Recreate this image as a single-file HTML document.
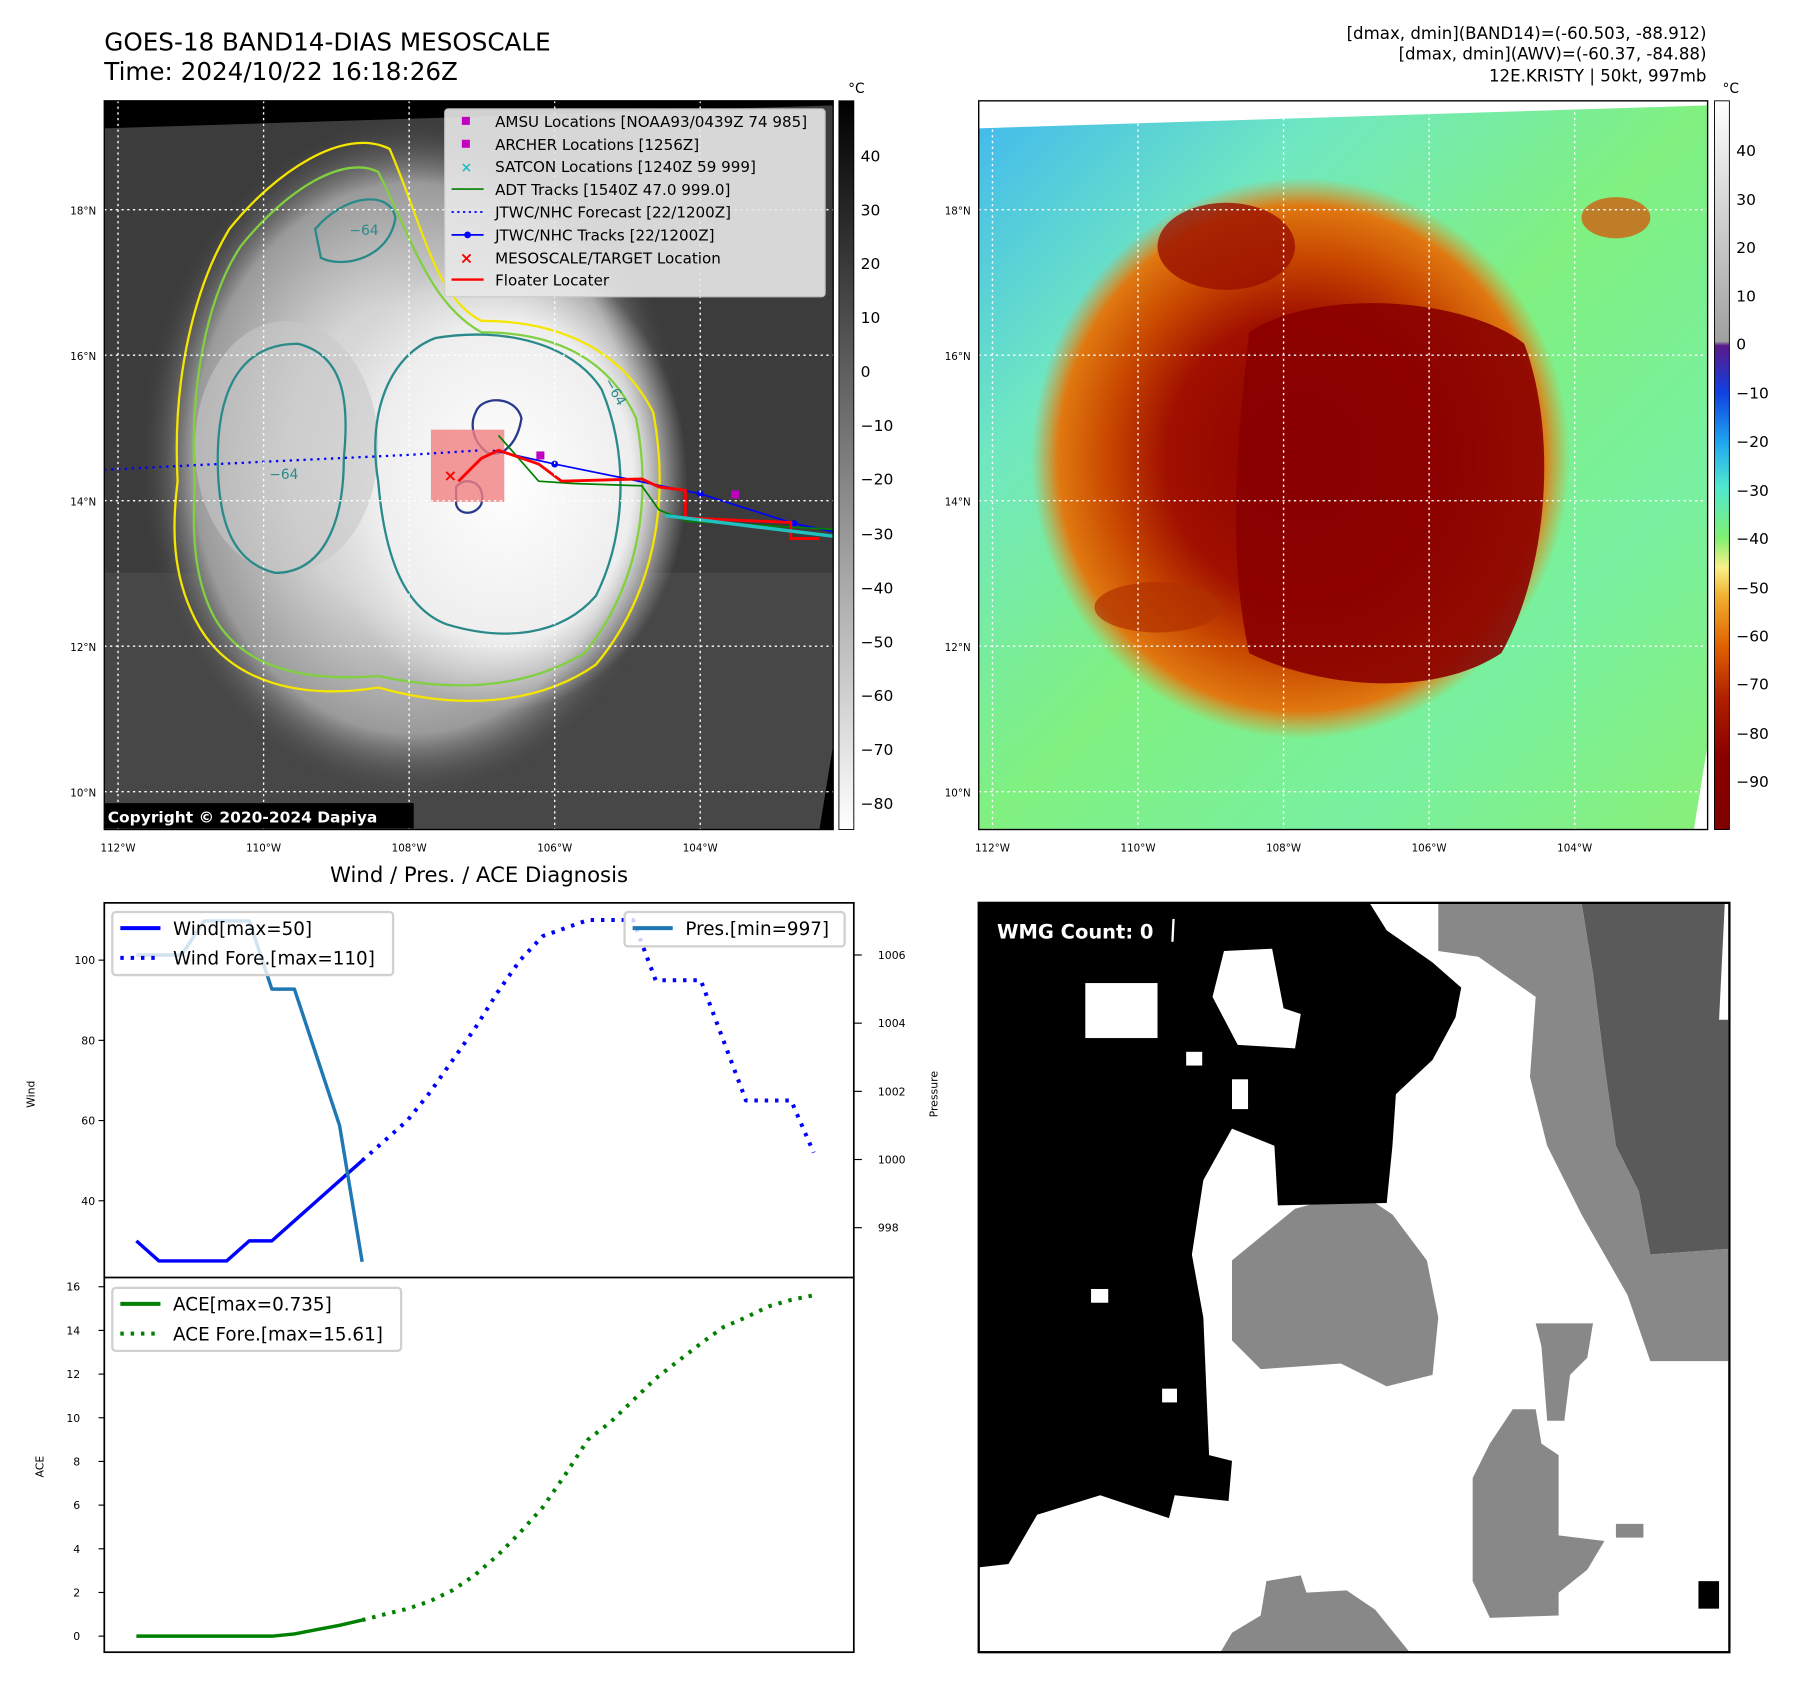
<!DOCTYPE html>
<html><head><meta charset="utf-8"><style>
html,body{margin:0;padding:0;background:#fff;}
svg{display:block;font-family:"DejaVu Sans","Liberation Sans",sans-serif;}
</style></head><body>
<svg id="fig" width="1797" height="1690" viewBox="0 0 1568 1475" preserveAspectRatio="none" xmlns="http://www.w3.org/2000/svg">
<defs>
<radialGradient id="cloudG" cx="0.5" cy="0.5" r="0.5">
<stop offset="0" stop-color="#f0f0f0"/><stop offset="0.45" stop-color="#d4d4d4"/><stop offset="0.8" stop-color="#9a9a9a"/><stop offset="1" stop-color="#3c3c3c" stop-opacity="0"/></radialGradient>
<radialGradient id="coreG" cx="0.5" cy="0.5" r="0.5">
<stop offset="0" stop-color="#ffffff"/><stop offset="0.7" stop-color="#eeeeee"/><stop offset="1" stop-color="#e0e0e0" stop-opacity="0"/></radialGradient>
<radialGradient id="hotG" cx="0.5" cy="0.5" r="0.5">
<stop offset="0" stop-color="#8a0000"/><stop offset="0.5" stop-color="#a01000"/><stop offset="0.72" stop-color="#c84800"/><stop offset="0.9" stop-color="#e07810"/><stop offset="1" stop-color="#e88a20" stop-opacity="0"/></radialGradient>
<linearGradient id="bgR" x1="0" y1="0" x2="1" y2="1">
<stop offset="0" stop-color="#40b8f0"/><stop offset="0.25" stop-color="#70e8c0"/><stop offset="0.5" stop-color="#80f080"/><stop offset="0.75" stop-color="#78f0a0"/><stop offset="1" stop-color="#88f078"/></linearGradient>
<linearGradient id="cb1" x1="0" y1="0" x2="0" y2="1"><stop offset="0" stop-color="#000"/><stop offset="1" stop-color="#fff"/></linearGradient>
<linearGradient id="cb2" x1="0" y1="0" x2="0" y2="1">
<stop offset="0" stop-color="#ffffff"/><stop offset="0.33" stop-color="#a0a0a0"/><stop offset="0.336" stop-color="#5a1a8a"/><stop offset="0.40" stop-color="#1040e0"/><stop offset="0.47" stop-color="#20a8f0"/><stop offset="0.53" stop-color="#50e8d0"/><stop offset="0.60" stop-color="#80f070"/><stop offset="0.64" stop-color="#f8f088"/><stop offset="0.68" stop-color="#f0b030"/><stop offset="0.75" stop-color="#e06000"/><stop offset="0.82" stop-color="#b02000"/><stop offset="0.9" stop-color="#8a0000"/><stop offset="1" stop-color="#800000"/></linearGradient>
<clipPath id="clipL"><rect x="91" y="88" width="636" height="636"/></clipPath>
<clipPath id="clipR"><rect x="854" y="88" width="636" height="636"/></clipPath>
</defs>

<text x="91" y="44" font-size="21.5">GOES-18 BAND14-DIAS MESOSCALE</text>
<text x="91" y="70" font-size="21.5">Time: 2024/10/22 16:18:26Z</text>
<g font-size="14.5" text-anchor="end">
<text x="1489" y="34">[dmax, dmin](BAND14)=(-60.503, -88.912)</text>
<text x="1489" y="52">[dmax, dmin](AWV)=(-60.37, -84.88)</text>
<text x="1489" y="71">12E.KRISTY | 50kt, 997mb</text>
</g>

<g clip-path="url(#clipL)">
<rect x="91" y="88" width="636" height="636" fill="#3c3c3c"/>
<rect x="91" y="500" width="636" height="224" fill="#474747"/>
<ellipse cx="360" cy="400" rx="240" ry="300" fill="url(#cloudG)"/>
<ellipse cx="440" cy="420" rx="160" ry="200" fill="url(#coreG)"/>
<ellipse cx="250" cy="390" rx="80" ry="110" fill="#c8c8c8" opacity="0.6"/>
<polygon points="91,88 727,88 727,92 91,112" fill="#000"/>
<polygon points="727,650 727,724 715,724" fill="#000"/>
<path d="M155,420 C150,330 170,250 200,200 C240,150 300,110 340,130 C370,200 380,260 420,280 C480,280 540,300 570,360 C585,440 570,520 520,580 C470,615 400,620 330,600 C270,610 200,600 170,540 C150,500 150,460 155,420Z" fill="none" stroke="#f5e600" stroke-width="2"/>
<path d="M170,420 C165,340 180,260 210,215 C250,165 300,135 330,150 C360,210 375,265 420,290 C480,290 530,310 555,365 C570,440 555,515 510,570 C460,600 400,605 330,590 C270,595 210,585 185,535 C168,500 168,460 170,420Z" fill="none" stroke="#80d040" stroke-width="2"/>
<path d="M330,420 C320,360 340,310 380,295 C440,285 500,300 525,340 C550,400 545,470 520,520 C490,555 440,560 390,545 C350,530 335,480 330,420Z" fill="none" stroke="#2a8a8a" stroke-width="2"/>
<path d="M190,400 C190,340 210,300 260,300 C300,310 305,350 300,400 C300,460 280,500 240,500 C200,490 190,450 190,400Z" fill="none" stroke="#2a8a8a" stroke-width="2"/>
<path d="M275,200 C300,170 340,165 345,190 C340,225 300,235 280,225Z" fill="none" stroke="#2a8a8a" stroke-width="2"/>
<path d="M415,360 C420,345 450,345 455,365 C452,385 440,400 425,395 C412,385 410,370 415,360Z" fill="none" stroke="#2a3a8a" stroke-width="2"/>
<path d="M398,425 C405,415 425,420 420,440 C415,450 400,450 398,440Z" fill="none" stroke="#2a3a8a" stroke-width="2"/>
<text x="305" y="205" font-size="12" fill="#2a8a8a">−64</text>
<text x="235" y="418" font-size="12" fill="#2a8a8a">−64</text>
<text x="527" y="333" font-size="12" fill="#2a8a8a" transform="rotate(60 527 333)">−64</text>
<rect x="376" y="375" width="64" height="63" fill="#f08080" opacity="0.8"/>
<polyline points="91,410 230,403 357,397 420,393" fill="none" stroke="#0000ff" stroke-width="2" stroke-dasharray="2,4"/>
<polyline points="430,393 484,405 611,431 693,457 727,464" fill="none" stroke="#0000ff" stroke-width="1.5"/>
<g fill="#0000ff"><circle cx="484" cy="405" r="3"/><circle cx="611" cy="431" r="3"/><circle cx="693" cy="457" r="3"/></g>
<polyline points="435,380 470,420 500,422 560,424 575,445 600,455 690,460 727,462" fill="none" stroke="#008000" stroke-width="1.5"/>
<polyline points="400,420 420,400 435,393 470,405 490,420 560,418 575,425 598,428 598,452 690,456 690,470 715,470" fill="none" stroke="#ff0000" stroke-width="2.5"/>
<polyline points="580,450 727,468" fill="none" stroke="#20c0c0" stroke-width="3"/>
<rect x="468" y="394" width="7" height="7" fill="#c000c0"/>
<rect x="638" y="428" width="7" height="7" fill="#c000c0"/>
<text x="393" y="420" font-size="14" fill="#ff0000" font-weight="bold" text-anchor="middle">×</text>
<g stroke="#fff" stroke-dasharray="2,3" stroke-width="1.2">
<line x1="103" y1="88" x2="103" y2="724"/><line x1="230" y1="88" x2="230" y2="724"/><line x1="357" y1="88" x2="357" y2="724"/><line x1="484" y1="88" x2="484" y2="724"/><line x1="611" y1="88" x2="611" y2="724"/>
<line x1="91" y1="183" x2="727" y2="183"/><line x1="91" y1="310" x2="727" y2="310"/><line x1="91" y1="437" x2="727" y2="437"/><line x1="91" y1="564" x2="727" y2="564"/><line x1="91" y1="691" x2="727" y2="691"/>
</g>
<rect x="89" y="701" width="272" height="22" fill="#000"/>
<text x="94" y="718" font-size="13.5" font-weight="bold" fill="#fff">Copyright © 2020-2024 Dapiya</text>
</g>
<rect x="91" y="88" width="636" height="636" fill="none" stroke="#000" stroke-width="1.2"/>
<g>
<rect x="388" y="95" width="332" height="164" rx="3" fill="#e8e8e8" opacity="0.9" stroke="#ccc"/>
<g font-size="13.2">
<rect x="403" y="102" width="7" height="7" fill="#c000c0"/><text x="432" y="111">AMSU Locations [NOAA93/0439Z 74 985]</text>
<rect x="403" y="122" width="7" height="7" fill="#c000c0"/><text x="432" y="131">ARCHER Locations [1256Z]</text>
<text x="407" y="150" fill="#20c0c0" font-weight="bold" text-anchor="middle" font-size="12">×</text><text x="432" y="150">SATCON Locations [1240Z 59 999]</text>
<line x1="394" y1="165" x2="422" y2="165" stroke="#008000" stroke-width="1.5"/><text x="432" y="170">ADT Tracks [1540Z 47.0 999.0]</text>
<line x1="394" y1="185" x2="422" y2="185" stroke="#0000ff" stroke-width="1.5" stroke-dasharray="2,3"/><text x="432" y="190">JTWC/NHC Forecast [22/1200Z]</text>
<line x1="394" y1="205" x2="422" y2="205" stroke="#0000ff" stroke-width="1.5"/><circle cx="408" cy="205" r="3" fill="#0000ff"/><text x="432" y="210">JTWC/NHC Tracks [22/1200Z]</text>
<text x="407" y="230" fill="#ff0000" font-weight="bold" text-anchor="middle" font-size="14">×</text><text x="432" y="230">MESOSCALE/TARGET Location</text>
<line x1="394" y1="244" x2="422" y2="244" stroke="#ff0000" stroke-width="2"/><text x="432" y="249">Floater Locater</text>
</g></g>
<g font-size="9" text-anchor="middle">
<text x="103" y="743">112°W</text><text x="230" y="743">110°W</text><text x="357" y="743">108°W</text><text x="484" y="743">106°W</text><text x="611" y="743">104°W</text></g>
<g font-size="9" text-anchor="end">
<text x="84" y="187">18°N</text><text x="84" y="314">16°N</text><text x="84" y="441">14°N</text><text x="84" y="568">12°N</text><text x="84" y="695">10°N</text></g>
<rect x="732" y="88" width="13" height="636" fill="url(#cb1)" stroke="#000" stroke-width="0.8"/>
<text x="740" y="81" font-size="12">°C</text>
<g font-size="13.5">
<text x="751" y="141">40</text><text x="751" y="188">30</text><text x="751" y="235">20</text><text x="751" y="282">10</text><text x="751" y="329">0</text><text x="751" y="376">−10</text><text x="751" y="423">−20</text><text x="751" y="471">−30</text><text x="751" y="518">−40</text><text x="751" y="565">−50</text><text x="751" y="612">−60</text><text x="751" y="659">−70</text><text x="751" y="706">−80</text></g>

<g clip-path="url(#clipR)">
<rect x="854" y="88" width="636" height="636" fill="url(#bgR)"/>
<ellipse cx="1135" cy="400" rx="235" ry="245" fill="url(#hotG)"/>
<path d="M1090,290 C1150,250 1280,260 1330,300 C1360,380 1350,500 1310,570 C1250,610 1150,600 1090,570 C1070,480 1080,380 1090,290Z" fill="#8a0000" opacity="0.9"/>
<ellipse cx="1070" cy="215" rx="60" ry="38" fill="#9a1000" opacity="0.8"/>
<ellipse cx="1010" cy="530" rx="55" ry="22" fill="#b03000" opacity="0.7"/>
<ellipse cx="1410" cy="190" rx="30" ry="18" fill="#d06010" opacity="0.8"/>
<polygon points="854,88 1490,88 1490,92 854,112" fill="#fff"/>
<polygon points="1490,650 1490,724 1478,724" fill="#fff"/>
<g stroke="#fff" stroke-dasharray="2,3" stroke-width="1.2">
<line x1="866" y1="88" x2="866" y2="724"/><line x1="993" y1="88" x2="993" y2="724"/><line x1="1120" y1="88" x2="1120" y2="724"/><line x1="1247" y1="88" x2="1247" y2="724"/><line x1="1374" y1="88" x2="1374" y2="724"/>
<line x1="854" y1="183" x2="1490" y2="183"/><line x1="854" y1="310" x2="1490" y2="310"/><line x1="854" y1="437" x2="1490" y2="437"/><line x1="854" y1="564" x2="1490" y2="564"/><line x1="854" y1="691" x2="1490" y2="691"/>
</g></g>
<rect x="854" y="88" width="636" height="636" fill="none" stroke="#000" stroke-width="1.2"/>
<g font-size="9" text-anchor="middle">
<text x="866" y="743">112°W</text><text x="993" y="743">110°W</text><text x="1120" y="743">108°W</text><text x="1247" y="743">106°W</text><text x="1374" y="743">104°W</text></g>
<g font-size="9" text-anchor="end">
<text x="847" y="187">18°N</text><text x="847" y="314">16°N</text><text x="847" y="441">14°N</text><text x="847" y="568">12°N</text><text x="847" y="695">10°N</text></g>
<rect x="1496" y="88" width="13" height="636" fill="url(#cb2)" stroke="#000" stroke-width="0.8"/>
<text x="1503" y="81" font-size="12">°C</text>
<g font-size="13.5">
<text x="1515" y="136">40</text><text x="1515" y="179">30</text><text x="1515" y="221">20</text><text x="1515" y="263">10</text><text x="1515" y="305">0</text><text x="1515" y="348">−10</text><text x="1515" y="390">−20</text><text x="1515" y="433">−30</text><text x="1515" y="475">−40</text><text x="1515" y="518">−50</text><text x="1515" y="560">−60</text><text x="1515" y="602">−70</text><text x="1515" y="645">−80</text><text x="1515" y="687">−90</text></g>

<g>
<rect x="854" y="788" width="655" height="654" fill="#fff"/>
<polygon points="1380,788 1505,788 1500,890 1508,890 1508,1090 1440,1095 1430,1040 1410,1000 1400,930 1390,850" fill="#5a5a5a"/>
<polygon points="1255,788 1380,788 1390,850 1400,930 1410,1000 1430,1040 1440,1095 1508,1090 1508,1188 1440,1188 1420,1130 1380,1060 1350,1000 1335,940 1340,870 1290,835 1255,830" fill="#888"/>
<polygon points="1130,1055 1185,1040 1215,1060 1245,1100 1255,1150 1250,1200 1210,1210 1170,1190 1100,1195 1075,1170 1075,1100" fill="#888"/>
<polygon points="1320,1230 1340,1230 1345,1260 1360,1270 1360,1340 1400,1345 1385,1370 1360,1390 1360,1410 1300,1412 1285,1380 1285,1290 1300,1260" fill="#888"/>
<polygon points="1340,1155 1390,1155 1385,1185 1370,1200 1365,1240 1350,1240 1345,1175" fill="#888"/>
<polygon points="1105,1380 1135,1375 1140,1390 1175,1388 1200,1405 1230,1442 1065,1442 1075,1425 1100,1410" fill="#888"/>
<polygon points="860,1105 910,1100 915,1180 880,1200 865,1212" fill="#a0a0a0"/>
<rect x="1168" y="928" width="16" height="25" fill="#888"/>
<polygon points="854,788 1195,788 1210,812 1250,840 1275,862 1270,888 1250,925 1218,955 1215,1000 1210,1050 1115,1052 1112,1000 1075,985 1050,1030 1040,1095 1050,1150 1055,1270 1075,1275 1072,1310 1025,1305 1020,1325 960,1305 905,1322 880,1365 854,1368" fill="#000"/>
<rect x="947" y="858" width="63" height="48" fill="#fff"/>
<polygon points="1068,830 1110,828 1120,880 1135,885 1130,915 1080,912 1058,870" fill="#fff"/>
<rect x="1075" y="942" width="14" height="26" fill="#fff"/>
<rect x="1035" y="918" width="14" height="12" fill="#fff"/>
<rect x="1014" y="1212" width="13" height="12" fill="#fff"/>
<rect x="952" y="1125" width="15" height="12" fill="#fff"/>
<rect x="1482" y="1380" width="18" height="24" fill="#000"/>
<rect x="1410" y="1330" width="24" height="12" fill="#888"/>
<text x="870" y="819" font-size="17" font-weight="bold" fill="#fff">WMG Count: 0</text>
<line x1="1024" y1="802" x2="1023" y2="822" stroke="#fff" stroke-width="2"/>
<rect x="854" y="788" width="655" height="654" fill="none" stroke="#000" stroke-width="2"/>
</g>

<text x="418" y="770" font-size="18.5" text-anchor="middle">Wind / Pres. / ACE Diagnosis</text>
<g id="chart"></g>
</svg>
<script>
const windActual = [30,25,25,25,25,30,30,35,40,45,50];
const windFcst = [50,55,60,67,75,83,92,100,106,108,110,110,110,95,95,95,80,65,65,65,52];
const presActual = [1006,1006,1006,1007,1007,1007,1005,1005,1003,1001,997];
const aceActual = [0,0,0,0,0,0,0,0.1,0.3,0.5,0.735];
const aceFcst = [0.735,1.0,1.25,1.6,2.1,2.8,3.7,4.75,5.9,7.4,9.0,9.8,10.8,11.8,12.6,13.4,14.15,14.6,15.1,15.4,15.61];
const windTicks = [40,60,80,100];
const presTicks = [998,1000,1002,1004,1006];
const aceTicks = [0,2,4,6,8,10,12,14,16];

const NS='http://www.w3.org/2000/svg';
const chart=document.getElementById('chart');
const xOf=i=>119+19.7*i;
const yW=v=>1048-(v-40)*3.5;
const yP=v=>1012-(v-1000)*29.75;
const yA=v=>1428-v*19.06;
function mk(tag,attrs,parent){const e=document.createElementNS(NS,tag);for(const k in attrs)e.setAttribute(k,attrs[k]);(parent||chart).appendChild(e);return e;}
function txt(x,y,s,size,anchor,rot){const t=mk('text',{x:x,y:y,'font-size':size,'text-anchor':anchor||'start'});if(rot)t.setAttribute('transform','rotate(-90 '+x+' '+y+')');t.textContent=s;return t;}

const ax=mk('rect',{x:91,y:788,width:654,height:654,fill:'#fff'});



windTicks.forEach(v=>{const y=yW(v);mk('line',{x1:86,y1:y,x2:91,y2:y,stroke:'#000'});
const t=txt(83,y+3.5,String(v),9.5,'end');

});
presTicks.forEach(v=>{const y=yP(v);mk('line',{x1:745,y1:y,x2:752,y2:y,stroke:'#000'});
const t=txt(766,y+3.5,String(v),9.5,'start');

});
aceTicks.forEach(v=>{const y=yA(v);mk('line',{x1:86,y1:y,x2:91,y2:y,stroke:'#000'});
const t=txt(70,y+3.5,String(v),9.5,'end');

});
const wl=txt(30,955,'Wind',9.5,'middle',true);


const pl=txt(818,955,'Pressure',9.5,'middle',true);


const al=txt(38,1280,'ACE',9.5,'middle',true);



function line(vals,off,yf,color,w,dash,name){
 const pts=vals.map((v,i)=>xOf(i+off).toFixed(1)+','+yf(v).toFixed(1)).join(' ');
 const p=mk('polyline',{points:pts,fill:'none',stroke:color,'stroke-width':w,'stroke-linejoin':'round'});
 if(dash)p.setAttribute('stroke-dasharray',dash);
 
 
}
line(windActual,0,yW,'#0000ff',3,null,'wind-line');
line(windFcst,10,yW,'#0000ff',3.5,'3,6','wind-forecast-line');
line(presActual,0,yP,'#1f77b4',3,null,'pressure-line');
line(aceActual,0,yA,'#008000',3,null,'ace-line');
line(aceFcst,10,yA,'#008000',3.5,'3,6','ace-forecast-line');

mk('rect',{x:91,y:788,width:654,height:654,fill:'none',stroke:'#000','stroke-width':1.5});
mk('line',{x1:91,y1:1115,x2:745,y2:1115,stroke:'#000','stroke-width':1.5});

function legend(x,y,w,h,items,name){
 const g=mk('g',{});
 
 
 mk('rect',{x:x,y:y,width:w,height:h,rx:3,fill:'#fff','fill-opacity':0.8,stroke:'#d0d0d0','stroke-width':2},g);
 items.forEach((it,i)=>{const yy=y+14+i*26;
  const l=mk('line',{x1:x+7,y1:yy,x2:x+42,y2:yy,stroke:it[1],'stroke-width':3.5},g);
  if(it[2])l.setAttribute('stroke-dasharray','3,6');
  const t=mk('text',{x:x+53,y:yy+6,'font-size':16},g);t.textContent=it[0];});
}
legend(98,796,245,55,[['Wind[max=50]','#0000ff',false],['Wind Fore.[max=110]','#0000ff',true]],'wind-legend');
legend(545,796,192,30,[['Pres.[min=997]','#1f77b4',false]],'pressure-legend');
legend(98,1124,252,55,[['ACE[max=0.735]','#008000',false],['ACE Fore.[max=15.61]','#008000',true]],'ace-legend');
</script>
</body></html>
